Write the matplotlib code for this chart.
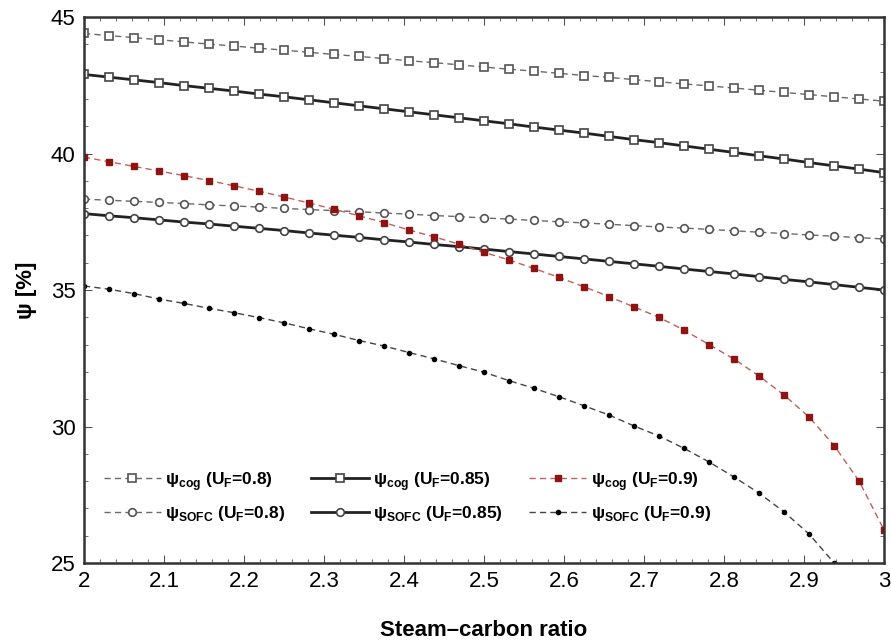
import matplotlib
matplotlib.use("Agg")
import numpy as np
import matplotlib.pyplot as plt
from matplotlib.ticker import MultipleLocator, FuncFormatter

plt.rcParams['font.family'] = ['Liberation Sans', 'DejaVu Sans']
plt.rcParams['mathtext.fontset'] = 'custom'
plt.rcParams['mathtext.rm'] = 'Liberation Sans'
plt.rcParams['mathtext.bf'] = 'Liberation Sans:bold'

# steam-carbon ratio, 33 points from 2 to 3
scr = np.linspace(2.0, 3.0, 33)

# psi_cog / psi_SOFC [%] for each fuel utilisation
cog_080 = [44.40, 44.32, 44.25, 44.17, 44.09, 44.01, 43.94, 43.86, 43.79, 43.71,
           43.63, 43.56, 43.48, 43.40, 43.33, 43.25, 43.17, 43.09, 43.02, 42.94,
           42.86, 42.79, 42.71, 42.63, 42.55, 42.48, 42.40, 42.32, 42.24, 42.16,
           42.08, 42.00, 41.92]
cog_085 = [42.90, 42.80, 42.70, 42.60, 42.49, 42.39, 42.29, 42.18, 42.08, 41.97,
           41.86, 41.75, 41.64, 41.53, 41.42, 41.31, 41.20, 41.09, 40.97, 40.86,
           40.75, 40.63, 40.51, 40.40, 40.28, 40.16, 40.04, 39.92, 39.80, 39.67,
           39.55, 39.43, 39.30]
cog_090 = [39.87, 39.70, 39.53, 39.36, 39.19, 39.01, 38.82, 38.62, 38.41, 38.19,
           37.96, 37.72, 37.47, 37.20, 36.95, 36.68, 36.38, 36.10, 35.79, 35.46,
           35.12, 34.76, 34.38, 34.00, 33.53, 33.00, 32.47, 31.85, 31.15, 30.35,
           29.30, 28.00, 26.20]
sofc_080 = [38.33, 38.29, 38.25, 38.21, 38.17, 38.12, 38.08, 38.04, 37.99, 37.95,
            37.91, 37.87, 37.82, 37.78, 37.73, 37.69, 37.64, 37.60, 37.55, 37.50,
            37.46, 37.41, 37.36, 37.31, 37.27, 37.22, 37.17, 37.12, 37.07, 37.02,
            36.97, 36.92, 36.87]
sofc_085 = [37.80, 37.72, 37.65, 37.57, 37.49, 37.42, 37.34, 37.26, 37.18, 37.09,
            37.01, 36.93, 36.84, 36.76, 36.67, 36.59, 36.50, 36.41, 36.32, 36.23,
            36.14, 36.05, 35.96, 35.87, 35.77, 35.68, 35.59, 35.49, 35.39, 35.30,
            35.20, 35.10, 35.00]
sofc_090 = [35.15, 35.03, 34.87, 34.67, 34.51, 34.33, 34.17, 33.99, 33.80, 33.58,
            33.38, 33.15, 32.95, 32.71, 32.48, 32.23, 31.99, 31.68, 31.40, 31.09,
            30.76, 30.42, 30.02, 29.65, 29.20, 28.70, 28.15, 27.56, 26.87, 26.06,
            25.00, 23.70, 22.20]

fig = plt.figure(figsize=(8.91, 6.40), dpi=100)
ax = fig.add_axes([0.0943, 0.1203, 0.898, 0.853])

gray = '#6a6a6a'
red = '#c0605a'
dkred = '#8e1414'
dash = (0, (4.5, 3))

ax.plot(scr, cog_080, linestyle=dash, color=gray, lw=1.0, marker='s', ms=5.5,
        mfc='white', mec='#555555', mew=1.2, label='ψ$_\\mathbf{cog}$ (U$_\\mathbf{F}$=0.8)')
ax.plot(scr, sofc_080, linestyle=dash, color=gray, lw=1.0, marker='o', ms=5.5,
        mfc='white', mec='#555555', mew=1.2, label='ψ$_\\mathbf{SOFC}$ (U$_\\mathbf{F}$=0.8)')
ax.plot(scr, cog_085, linestyle='-', color='#222222', lw=2.0, marker='s', ms=5.5,
        mfc='white', mec='#444444', mew=1.2, label='ψ$_\\mathbf{cog}$ (U$_\\mathbf{F}$=0.85)')
ax.plot(scr, sofc_085, linestyle='-', color='#222222', lw=2.0, marker='o', ms=5.5,
        mfc='white', mec='#444444', mew=1.2, label='ψ$_\\mathbf{SOFC}$ (U$_\\mathbf{F}$=0.85)')
ax.plot(scr, cog_090, linestyle=dash, color=red, lw=1.0, marker='s', ms=4.5,
        mfc=dkred, mec=dkred, label='ψ$_\\mathbf{cog}$ (U$_\\mathbf{F}$=0.9)')
ax.plot(scr, sofc_090, linestyle=dash, color='#444444', lw=1.0, marker='o', ms=3,
        mfc='black', mec='black', label='ψ$_\\mathbf{SOFC}$ (U$_\\mathbf{F}$=0.9)')

ax.set_xlim(2, 3)
ax.set_ylim(25, 45)
ax.xaxis.set_major_locator(MultipleLocator(0.1))
ax.xaxis.set_minor_locator(MultipleLocator(0.02))
ax.yaxis.set_major_locator(MultipleLocator(5))
ax.yaxis.set_minor_locator(MultipleLocator(1))
ax.xaxis.set_major_formatter(FuncFormatter(lambda v, p: f'{v:g}'))
ax.tick_params(which='both', direction='in', top=True, right=True, color='#555555')
ax.tick_params(which='major', length=6, labelsize=16, pad=6)
ax.tick_params(which='minor', length=3)
for s in ax.spines.values():
    s.set_linewidth(1.8)
    s.set_color('#333333')

ax.set_xlabel('Steam–carbon ratio', fontsize=16, fontweight='bold', labelpad=20)
ax.set_ylabel('ψ [%]', fontsize=16, fontweight='bold', labelpad=10)

ax.legend(ncol=3, loc='lower left', bbox_to_anchor=(0.005, 0.045), frameon=False,
          numpoints=1, handlelength=3.3, handletextpad=0.25, columnspacing=1.5,
          labelspacing=0.65, prop={'weight': 'bold', 'size': 12.5})

fig.savefig('out.png', dpi=100)
